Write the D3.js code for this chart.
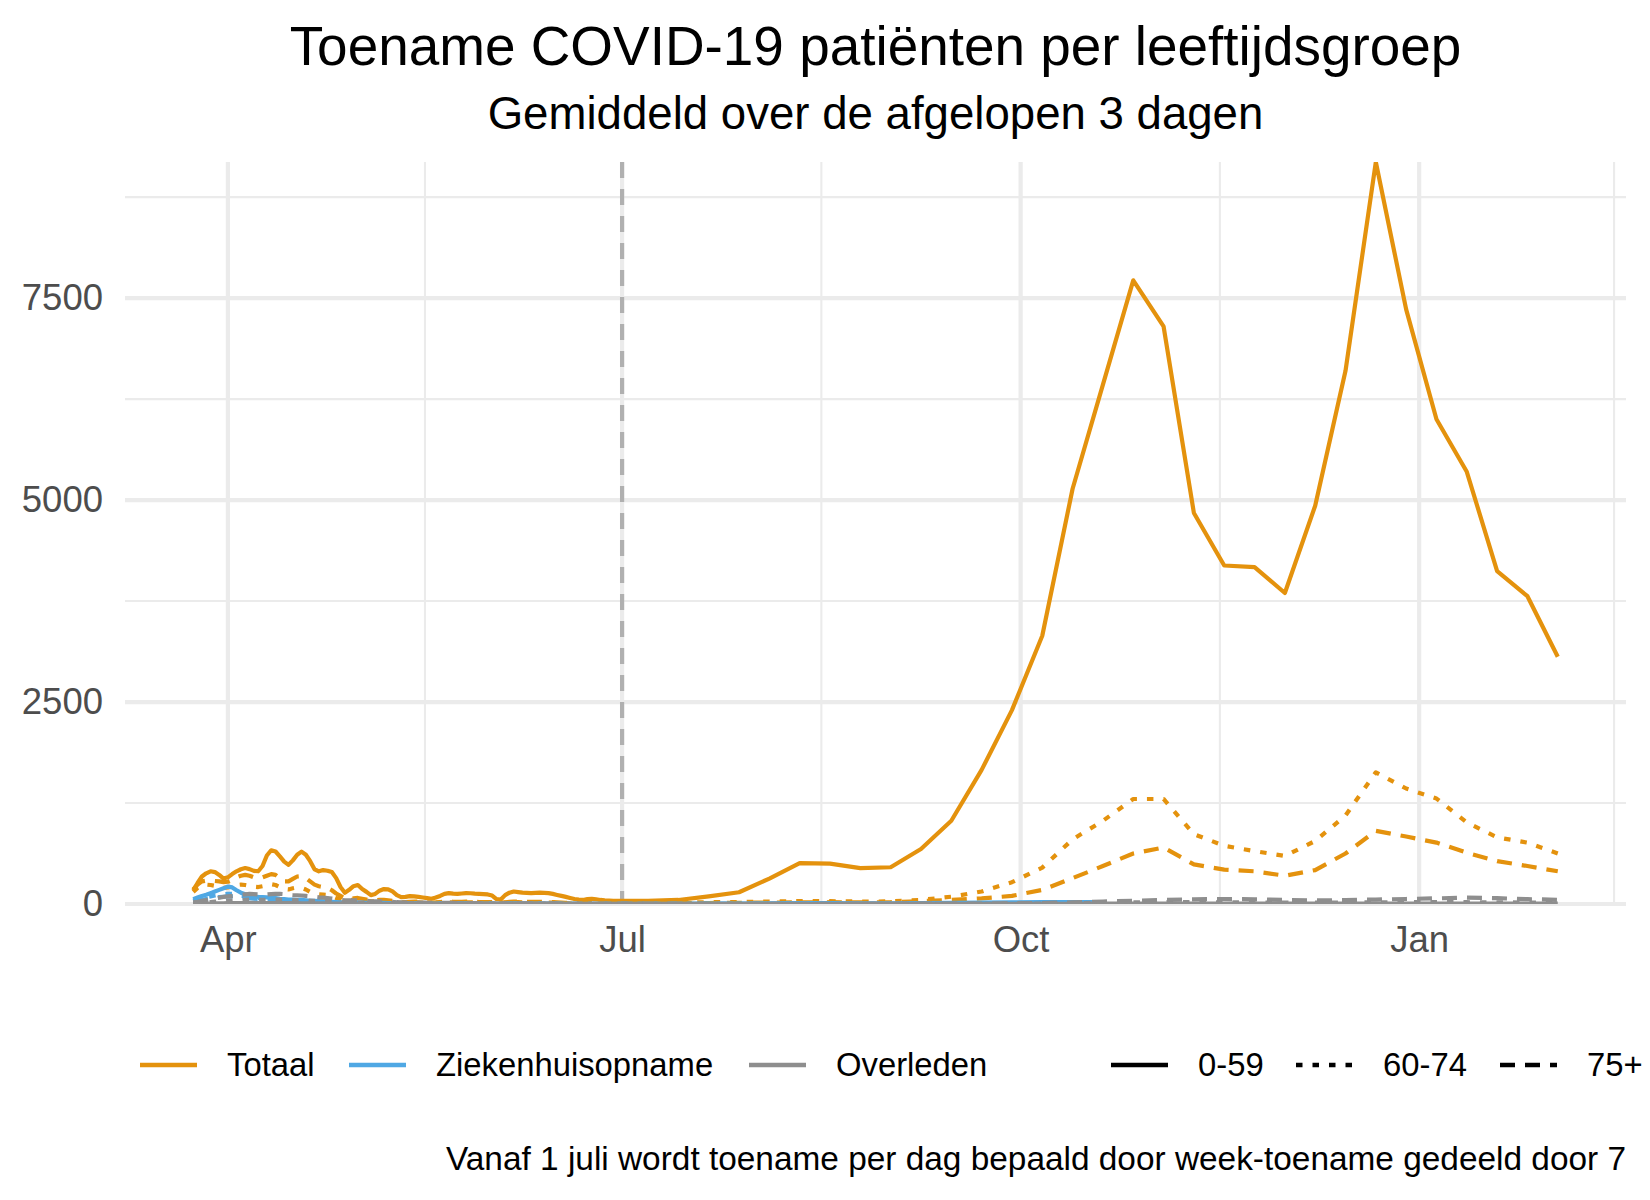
<!DOCTYPE html>
<html><head><meta charset="utf-8">
<script src="https://cdn.jsdelivr.net/npm/d3@7"></script>
<style>
body{margin:0;background:#fff}
svg{display:block}
text{font-family:"Liberation Sans",Arial,Helvetica,sans-serif}
</style>
</head><body>
<svg id="c" width="1650" height="1200"></svg>
<script>
// ---------------- DATA ----------------
const dailyFrom = "2020-03-24", dailyTo = "2020-07-01";   // daily 3-day averages (Mar 24 .. Jun 30)
const weeklyFrom = "2020-07-07", weeklyTo = "2021-02-03"; // weekly points (Tuesdays Jul 7 .. Feb 2)
const typeNames = ["Totaal", "Ziekenhuisopname", "Overleden"];
const ageNames = ["0-59", "60-74", "75+"];
const typeColors = ["#E4920D", "#4FA8E4", "#8E8E8E"];
const yTicks = [0, 2500, 5000, 7500];
const xTickDates = ["2020-04-01", "2020-07-01", "2020-10-01", "2021-01-01"];
const vlineDate = "2020-07-01";
const titleText = "Toename COVID-19 patiënten per leeftijdsgroep";
const subtitleText = "Gemiddeld over de afgelopen 3 dagen";
const captionText = "Vanaf 1 juli wordt toename per dag bepaald door week-toename gedeeld door 7";

// Totaal
const totaal_059_daily = [170,260,340,380,405,395,360,315,
 330,370,405,430,445,432,410,405,470,600,
 665,650,590,525,485,540,610,648,610,530,
 430,405,420,412,395,320,210,140,175,220,
 235,185,150,110,125,165,185,182,155,110,
 85,88,98,95,88,80,72,65,80,100,
 125,135,128,125,130,135,133,128,125,122,
 118,105,60,55,110,140,155,148,140,138,
 135,138,140,138,135,125,112,100,88,75,
 62,55,50,60,65,58,50,45,42,40,40];
const totaal_6074_daily = [150,200,230,240,235,225,215,200,
 205,220,235,240,235,225,215,210,220,235,
 245,235,210,185,180,195,205,200,180,150,
 130,120,115,110,95,75,55,40,45,55,
 55,48,40,32,32,38,40,36,30,22,
 18,18,20,22,20,18,15,13,15,18,
 20,22,21,20,20,22,21,20,19,18,
 17,16,9,9,16,20,22,22,21,20,
 20,20,20,19,18,17,15,13,11,9,
 8,7,7,8,8,7,6,6,6,5,5];
const totaal_75_daily = [180,240,280,290,290,285,280,270,
 275,300,330,350,360,350,330,320,330,350,
 370,360,320,280,280,310,340,345,320,280,
 240,220,210,200,170,130,100,70,60,70,
 75,65,55,45,45,50,50,45,40,30,
 25,25,28,30,28,25,20,18,20,25,
 28,30,28,28,28,30,28,26,25,25,
 24,22,12,12,22,28,30,30,28,28,
 26,26,26,25,24,22,20,18,15,12,
 10,10,9,10,12,10,9,8,8,7,7];
const totaal_059_weekly = [40,50,95,145,315,505,500,445,455,680,1030,1660,2400,3320,5140,6430,7720,7150,4840,4190,4170,3850,4930,6600,9185,7360,6000,5350,4120,3810,3060];
const totaal_6074_weekly = [15,18,22,25,30,35,35,30,32,50,90,155,270,450,800,1030,1300,1300,865,720,655,595,780,1095,1630,1430,1305,1010,825,760,625];
const totaal_75_weekly = [8,10,12,15,18,20,22,20,22,35,50,70,100,175,320,470,625,700,490,425,405,350,420,625,905,835,760,635,530,470,405];

// Ziekenhuisopname
const zkh_059_daily = [60,80,100,115,135,155,175,195,
 215,205,170,140,120,105,95,88,85,82,
 80,75,65,60,55,55,52,50,45,40,
 38,36,34,32,28,25,20,15,16,18,
 18,16,14,12,12,13,13,12,10,8,
 7,7,8,8,7,7,6,5,6,7,
 8,8,8,7,7,8,7,7,6,6,
 6,5,3,3,5,6,7,7,6,6,
 6,6,6,5,5,5,4,4,3,3,
 3,3,3,3,3,3,3,2,2,2,2];
const zkh_6074_daily = [40,55,70,85,95,105,115,120,
 125,125,118,105,95,85,78,72,68,65,
 62,58,52,48,45,44,42,40,36,32,
 30,28,26,24,21,18,14,11,12,13,
 13,12,10,9,9,10,10,9,8,6,
 5,5,6,6,5,5,4,4,4,5,
 5,5,5,5,5,5,5,4,4,4,
 4,4,2,2,4,4,5,5,4,4,
 4,4,4,4,3,3,3,3,2,2,
 2,2,2,2,2,2,2,2,2,1,1];
const zkh_75_daily = [30,42,52,62,70,78,85,90,
 95,95,92,85,78,72,66,62,60,58,
 55,52,48,44,42,41,40,38,35,31,
 28,26,25,23,20,17,13,10,11,12,
 12,11,9,8,8,9,9,8,7,5,
 5,5,5,5,5,5,4,4,4,4,
 4,4,4,4,4,4,4,4,4,4,
 4,3,2,2,3,4,4,4,4,4,
 4,4,3,3,3,3,3,2,2,2,
 2,2,2,2,2,2,2,1,1,1,1];
const zkh_059_weekly = [3,3,4,5,8,10,10,9,9,11,14,17,20,22,25,25,null,null,null,null,null,null,null,null,null,null,null,null,null,null,null];
const zkh_6074_weekly = [1,1,1,2,2,3,3,3,3,4,5,6,8,9,10,10,null,null,null,null,null,null,null,null,null,null,null,null,null,null,null];
const zkh_75_weekly = [1,1,1,1,2,2,2,2,2,3,4,5,6,7,8,8,null,null,null,null,null,null,null,null,null,null,null,null,null,null,null];

// Overleden
const ovl_059_daily = [2,3,4,5,6,7,8,9,
 10,11,12,12,13,13,13,12,12,12,
 12,12,12,11,11,10,10,9,9,8,
 8,7,7,6,6,5,4,4,3,3,
 3,3,3,3,2,2,2,2,2,2,
 2,2,2,2,2,2,1,1,1,1,
 1,1,1,1,1,1,1,1,1,1,
 1,1,0,0,1,1,1,1,1,1,
 1,1,1,1,1,1,1,1,0,0,
 0,0,0,0,0,0,0,0,0,0,0];
const ovl_6074_daily = [8,12,16,20,25,30,34,38,
 42,45,48,50,52,55,54,52,50,52,
 54,55,55,53,50,48,47,46,44,41,
 38,35,33,31,29,26,22,19,18,19,
 19,18,16,14,13,13,13,12,11,9,
 8,8,8,8,7,7,6,5,5,6,
 6,6,5,5,5,5,5,4,4,4,
 4,3,2,2,3,3,3,3,3,3,
 3,3,3,2,2,2,2,2,2,1,
 1,1,1,1,1,1,1,1,1,1,1];
const ovl_75_daily = [20,28,38,48,58,68,78,88,
 95,100,108,115,120,125,122,118,115,118,
 122,125,126,122,115,110,108,105,100,95,
 88,82,78,74,68,60,52,46,44,45,
 45,42,38,34,32,32,31,29,26,22,
 20,19,19,19,18,16,14,13,13,14,
 14,14,13,12,12,12,11,10,10,9,
 9,8,5,5,7,8,8,8,7,7,
 7,6,6,6,5,5,5,4,4,3,
 3,3,3,3,3,3,3,3,2,2,2];
const ovl_059_weekly = [0,0,0,0,0,0,0,1,1,1,1,1,2,2,3,4,5,5,5,5,5,4,4,4,5,5,6,6,5,5,4];
const ovl_6074_weekly = [0,0,0,0,1,1,1,1,1,1,2,3,4,5,10,15,20,22,22,20,18,16,16,18,20,22,24,22,20,18,15];
const ovl_75_weekly = [2,2,2,2,2,3,3,3,3,4,5,6,8,12,20,30,40,50,58,62,58,50,45,48,55,62,70,78,72,60,52];

// ---------------- BUILD ----------------
const parse = d3.timeParse("%Y-%m-%d");
const dailyDates = d3.timeDay.range(parse(dailyFrom), parse(dailyTo));
const weeklyDates = d3.timeTuesday.range(parse(weeklyFrom), parse(weeklyTo));
const allDates = dailyDates.concat(weeklyDates);

const table = [
  [totaal_059_daily, totaal_059_weekly, totaal_6074_daily, totaal_6074_weekly, totaal_75_daily, totaal_75_weekly],
  [zkh_059_daily, zkh_059_weekly, zkh_6074_daily, zkh_6074_weekly, zkh_75_daily, zkh_75_weekly],
  [ovl_059_daily, ovl_059_weekly, ovl_6074_daily, ovl_6074_weekly, ovl_75_daily, ovl_75_weekly]
];
const series = [];
table.forEach((row, ti) => {
  for (let ai = 0; ai < 3; ai++) {
    const vals = row[ai * 2].concat(row[ai * 2 + 1]);
    series.push({type: ti, age: ai, points: allDates.map((d, i) => ({date: d, value: vals[i]}))});
  }
});

// ---------------- LAYOUT ----------------
const W = 1650, H = 1200;
const panel = {left: 125, right: 1626, top: 162, bottom: 904};
const lineW = 4.2;
const dashFor = [null, "6.5,10", "15,10"];

const svg = d3.select("#c");
svg.append("rect").attr("width", W).attr("height", H).attr("fill", "#fff");

const dMin = d3.min(allDates), dMax = d3.max(allDates);
const span = dMax - dMin;
const x = d3.scaleTime()
  .domain([new Date(+dMin - 0.05 * span), new Date(+dMax + 0.05 * span)])
  .range([panel.left, panel.right]);
const yMax = d3.max(series, s => d3.max(s.points, p => p.value));
const y = d3.scaleLinear().domain([0, yMax]).range([panel.bottom, panel.top]);

const grid = svg.append("g");
// minor y
const yMinor = [];
for (let i = 0; i < yTicks.length; i++) {
  const next = i + 1 < yTicks.length ? yTicks[i + 1] : yTicks[i] + (yTicks[1] - yTicks[0]);
  const m = (yTicks[i] + next) / 2;
  if (m <= yMax) yMinor.push(m);
}
grid.selectAll(".ymin").data(yMinor).join("line")
  .attr("x1", panel.left).attr("x2", panel.right)
  .attr("y1", d => y(d)).attr("y2", d => y(d))
  .attr("stroke", "#EBEBEB").attr("stroke-width", 2.1);
// minor x: midpoints between quarterly majors
const xMajor = xTickDates.map(parse);
const ext = [d3.timeMonth.offset(xMajor[0], -3)].concat(xMajor, [d3.timeMonth.offset(xMajor[xMajor.length - 1], 3)]);
const xMinor = [];
for (let i = 0; i < ext.length - 1; i++) {
  const m = new Date((+ext[i] + +ext[i + 1]) / 2);
  if (m >= x.domain()[0] && m <= x.domain()[1]) xMinor.push(m);
}
grid.selectAll(".xmin").data(xMinor).join("line")
  .attr("x1", d => x(d)).attr("x2", d => x(d))
  .attr("y1", panel.top).attr("y2", panel.bottom)
  .attr("stroke", "#EBEBEB").attr("stroke-width", 2.1);
// major
grid.selectAll(".ymaj").data(yTicks).join("line")
  .attr("x1", panel.left).attr("x2", panel.right)
  .attr("y1", d => y(d)).attr("y2", d => y(d))
  .attr("stroke", "#EBEBEB").attr("stroke-width", 4.2);
grid.selectAll(".xmaj").data(xMajor).join("line")
  .attr("x1", d => x(d)).attr("x2", d => x(d))
  .attr("y1", panel.top).attr("y2", panel.bottom)
  .attr("stroke", "#EBEBEB").attr("stroke-width", 4.2);

// axis labels via d3 axes (no domain/ticks lines)
const fmtY = d3.format("d");
const yAxis = svg.append("g").attr("transform", `translate(${panel.left},0)`)
  .call(d3.axisLeft(y).tickValues(yTicks).tickFormat(fmtY).tickSize(0).tickPadding(22));
yAxis.select(".domain").remove();
yAxis.selectAll("text").attr("font-size", 36.5).attr("fill", "#4D4D4D")
  .attr("font-family", "'Liberation Sans',Arial,Helvetica,sans-serif");

const xAxis = svg.append("g").attr("transform", `translate(0,${panel.bottom})`)
  .call(d3.axisBottom(x).tickValues(xMajor).tickFormat(d3.timeFormat("%b")).tickSize(0).tickPadding(22));
xAxis.select(".domain").remove();
xAxis.selectAll("text").attr("font-size", 36.5).attr("fill", "#4D4D4D")
  .attr("font-family", "'Liberation Sans',Arial,Helvetica,sans-serif");

// clip
svg.append("clipPath").attr("id", "clip").append("rect")
  .attr("x", panel.left).attr("y", panel.top)
  .attr("width", panel.right - panel.left).attr("height", panel.bottom - panel.top);

const plot = svg.append("g").attr("clip-path", "url(#clip)");
// vertical dashed line
plot.append("line")
  .attr("x1", x(parse(vlineDate))).attr("x2", x(parse(vlineDate)))
  .attr("y1", panel.top).attr("y2", panel.bottom)
  .attr("stroke", "#B0B0B0").attr("stroke-width", 4.2)
  .attr("stroke-dasharray", "16,11");

const line = d3.line().defined(p => p.value != null).x(p => x(p.date)).y(p => y(p.value));
plot.selectAll(".series").data(series).join("path")
  .attr("d", s => line(s.points))
  .attr("fill", "none")
  .attr("stroke", s => typeColors[s.type])
  .attr("stroke-width", lineW)
  .attr("stroke-linejoin", "round")
  .attr("stroke-linecap", "butt")
  .attr("stroke-dasharray", s => dashFor[s.age]);

// titles
svg.append("text").attr("x", (panel.left + panel.right) / 2).attr("y", 65)
  .attr("text-anchor", "middle").attr("font-size", 54.9).attr("fill", "#000").text(titleText);
svg.append("text").attr("x", (panel.left + panel.right) / 2).attr("y", 129)
  .attr("text-anchor", "middle").attr("font-size", 45.6).attr("fill", "#000").text(subtitleText);

// legend
const legendY = 1065, keyLen = 57, textGap = 30, legendFont = 32.8;
const legend1X = [140, 349, 749];
const legend2X = [1111, 1296, 1500];
const lg = svg.append("g");
typeNames.forEach((name, i) => {
  const g = lg.append("g").attr("transform", `translate(${legend1X[i]},${legendY})`);
  g.append("line").attr("x1", 0).attr("x2", keyLen).attr("y1", 0).attr("y2", 0)
    .attr("stroke", typeColors[i]).attr("stroke-width", 4.6);
  g.append("text").attr("x", keyLen + textGap).attr("y", 0).attr("dy", "0.35em")
    .attr("font-size", legendFont).attr("fill", "#000").text(name);
});
ageNames.forEach((name, i) => {
  const g = lg.append("g").attr("transform", `translate(${legend2X[i]},${legendY})`);
  g.append("line").attr("x1", 0).attr("x2", keyLen).attr("y1", 0).attr("y2", 0)
    .attr("stroke", "#000").attr("stroke-width", 4.6)
    .attr("stroke-dasharray", dashFor[i]);
  g.append("text").attr("x", keyLen + textGap).attr("y", 0).attr("dy", "0.35em")
    .attr("font-size", legendFont).attr("fill", "#000").text(name);
});

// caption
svg.append("text").attr("x", panel.right).attr("y", 1170)
  .attr("text-anchor", "end").attr("font-size", 33.4).attr("fill", "#000").text(captionText);
</script>
</body></html>
